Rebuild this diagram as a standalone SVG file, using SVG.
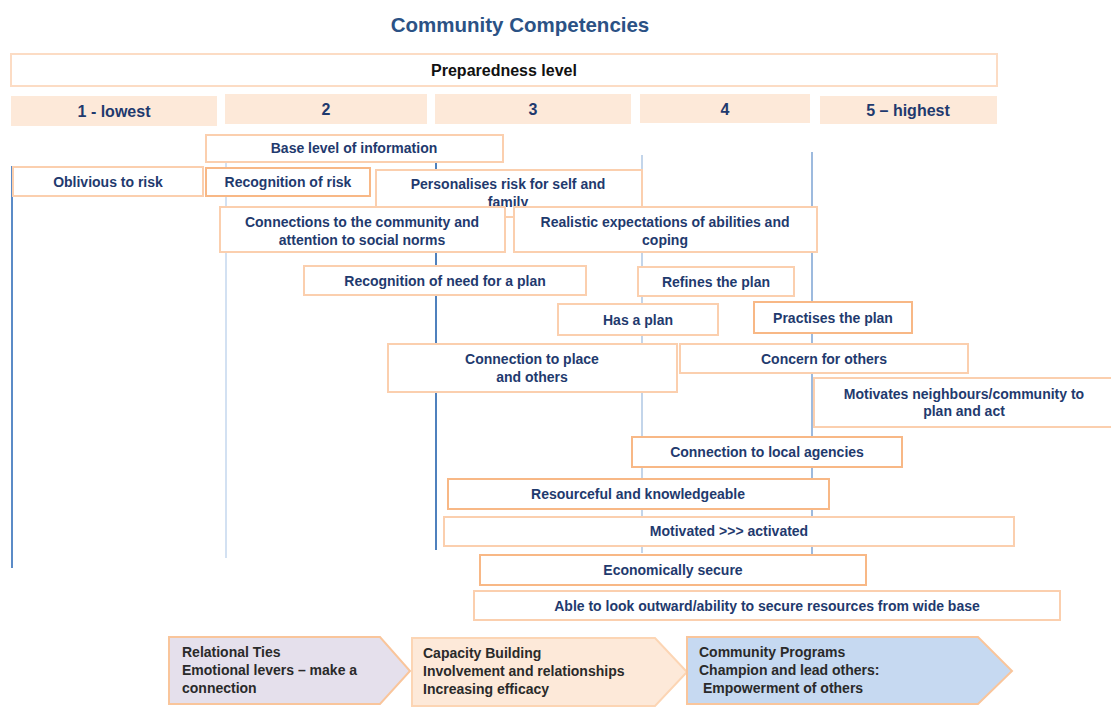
<svg xmlns="http://www.w3.org/2000/svg" width="1111" height="720" viewBox="0 0 1111 720">
  <defs>
    <style>
      .title { font-family: "Liberation Sans", Arial, sans-serif; font-size: 20.5px; font-weight: bold; fill: #2b5285; text-anchor: middle; }
      .hdr { font-family: "Liberation Sans", Arial, sans-serif; font-size: 16px; font-weight: bold; fill: #111; text-anchor: middle; }
      .lvl rect { fill: #fde9d9; }
      .lvl text { font-family: "Liberation Sans", Arial, sans-serif; font-size: 16px; font-weight: bold; fill: #1f3a6e; text-anchor: middle; }
      .node rect { fill: #ffffff; stroke: #fbcfae; stroke-width: 2; }
      .node.strong rect { stroke: #f8b886; }
      .node text { font-family: "Liberation Sans", Arial, sans-serif; font-size: 14px; font-weight: bold; fill: #1f3a6e; text-anchor: middle; }
      .stage text { font-family: "Liberation Sans", Arial, sans-serif; font-size: 14px; font-weight: bold; fill: #2a2a2a; }
      .axis line { stroke-width: 2; }
    </style>
    <clipPath id="clip-personal">
      <rect x="376" y="170" width="266" height="47"/>
    </clipPath>
  </defs>

  <rect width="1111" height="720" fill="#ffffff"/>

  <!-- Title -->
  <text class="title" x="520" y="32">Community Competencies</text>

  <!-- Preparedness scale header -->
  <g id="preparedness">
    <rect x="11" y="54" width="986" height="32" fill="#ffffff" stroke="#fcdcc4" stroke-width="2"/>
    <text class="hdr" x="504" y="76">Preparedness level</text>
  </g>

  <g id="level-1" class="lvl"><rect x="11" y="96" width="206" height="30"/><text x="114" y="117">1 - lowest</text></g>
  <g id="level-2" class="lvl"><rect x="225" y="94" width="202" height="30"/><text x="326" y="115">2</text></g>
  <g id="level-3" class="lvl"><rect x="435" y="94" width="196" height="30"/><text x="533" y="115">3</text></g>
  <g id="level-4" class="lvl"><rect x="640" y="94" width="170" height="29"/><text x="725" y="115">4</text></g>
  <g id="level-5" class="lvl"><rect x="820" y="96" width="177" height="28"/><text x="908" y="116">5 – highest</text></g>

  <!-- Level guide lines -->
  <g id="connectors" class="axis">
    <line x1="12" y1="166" x2="12" y2="568" stroke="#5b8bc7"/>
    <line x1="226" y1="163" x2="226" y2="558" stroke="#d3e1f2"/>
    <line x1="436" y1="162" x2="436" y2="550" stroke="#4f81bd"/>
    <line x1="642" y1="155" x2="642" y2="553" stroke="#c3d5ea"/>
    <line x1="812" y1="152" x2="812" y2="555" stroke="#9dbade"/>
  </g>

  <!-- Competency nodes -->
  <g id="base-information" class="node"><rect x="206" y="135" width="297" height="27"/><text x="354" y="153">Base level of information</text></g>
  <g id="oblivious" class="node"><rect x="13" y="167" width="190" height="29"/><text x="108" y="187">Oblivious to risk</text></g>
  <g id="recognition-risk" class="node strong"><rect x="206" y="168" width="164" height="28"/><text x="288" y="187">Recognition of risk</text></g>
  <g id="personalises-risk" class="node">
    <rect x="376" y="170" width="266" height="47"/>
    <g clip-path="url(#clip-personal)">
      <text x="508" y="189">Personalises risk for self and</text>
      <text x="508" y="207">family</text>
    </g>
  </g>
  <g id="connections-community" class="node">
    <rect x="220" y="207" width="285" height="45"/>
    <text x="362" y="227">Connections to the community and</text>
    <text x="362" y="245">attention to social norms</text>
  </g>
  <g id="realistic-expectations" class="node">
    <rect x="514" y="207" width="303" height="45"/>
    <text x="665" y="227">Realistic expectations of abilities and</text>
    <text x="665" y="245">coping</text>
  </g>
  <g id="need-plan" class="node"><rect x="304" y="266" width="282" height="29"/><text x="445" y="286">Recognition of need for a plan</text></g>
  <g id="refines-plan" class="node"><rect x="638" y="267" width="156" height="29"/><text x="716" y="287">Refines the plan</text></g>
  <g id="has-plan" class="node"><rect x="558" y="304" width="160" height="31"/><text x="638" y="325">Has a plan</text></g>
  <g id="practises-plan" class="node strong"><rect x="754" y="302" width="158" height="31"/><text x="833" y="323">Practises the plan</text></g>
  <g id="connection-place" class="node">
    <rect x="388" y="344" width="289" height="48"/>
    <text x="532" y="364">Connection to place</text>
    <text x="532" y="382">and others</text>
  </g>
  <g id="concern-others" class="node"><rect x="680" y="344" width="288" height="29"/><text x="824" y="364">Concern for others</text></g>
  <g id="motivates-neighbours" class="node">
    <rect x="814" y="378" width="300" height="49"/>
    <text x="964" y="399">Motivates neighbours/community to</text>
    <text x="964" y="416">plan and act</text>
  </g>
  <g id="local-agencies" class="node strong"><rect x="632" y="437" width="270" height="30"/><text x="767" y="457">Connection to local agencies</text></g>
  <g id="resourceful" class="node strong"><rect x="448" y="479" width="381" height="30"/><text x="638" y="499">Resourceful and knowledgeable</text></g>
  <g id="motivated-activated" class="node"><rect x="444" y="517" width="570" height="29"/><text x="729" y="536">Motivated &gt;&gt;&gt; activated</text></g>
  <g id="economically-secure" class="node strong"><rect x="480" y="555" width="386" height="30"/><text x="673" y="575">Economically secure</text></g>
  <g id="look-outward" class="node"><rect x="474" y="591" width="586" height="29"/><text x="767" y="611">Able to look outward/ability to secure resources from wide base</text></g>

  <!-- Stage chevrons -->
  <g id="relational-ties" class="stage">
    <polygon points="169,637 380,637 410,671 380,704 169,704" fill="#e5e0ec" stroke="#f9c59b" stroke-width="2"/>
    <text x="182" y="657">Relational Ties</text>
    <text x="182" y="675">Emotional levers – make a</text>
    <text x="182" y="693">connection</text>
  </g>
  <g id="capacity-building" class="stage">
    <polygon points="412,638 655,638 687,672 655,706 412,706" fill="#fde9d9" stroke="#fcd5b4" stroke-width="2"/>
    <text x="423" y="658">Capacity Building</text>
    <text x="423" y="676">Involvement and relationships</text>
    <text x="423" y="694">Increasing efficacy</text>
  </g>
  <g id="community-programs" class="stage">
    <polygon points="687,637 978,637 1012,671 978,704 687,704" fill="#c6d9f1" stroke="#f9c59b" stroke-width="2"/>
    <text x="699" y="657">Community Programs</text>
    <text x="699" y="675">Champion and lead others:</text>
    <text x="699" y="693" xml:space="preserve"> Empowerment of others</text>
  </g>
</svg>
